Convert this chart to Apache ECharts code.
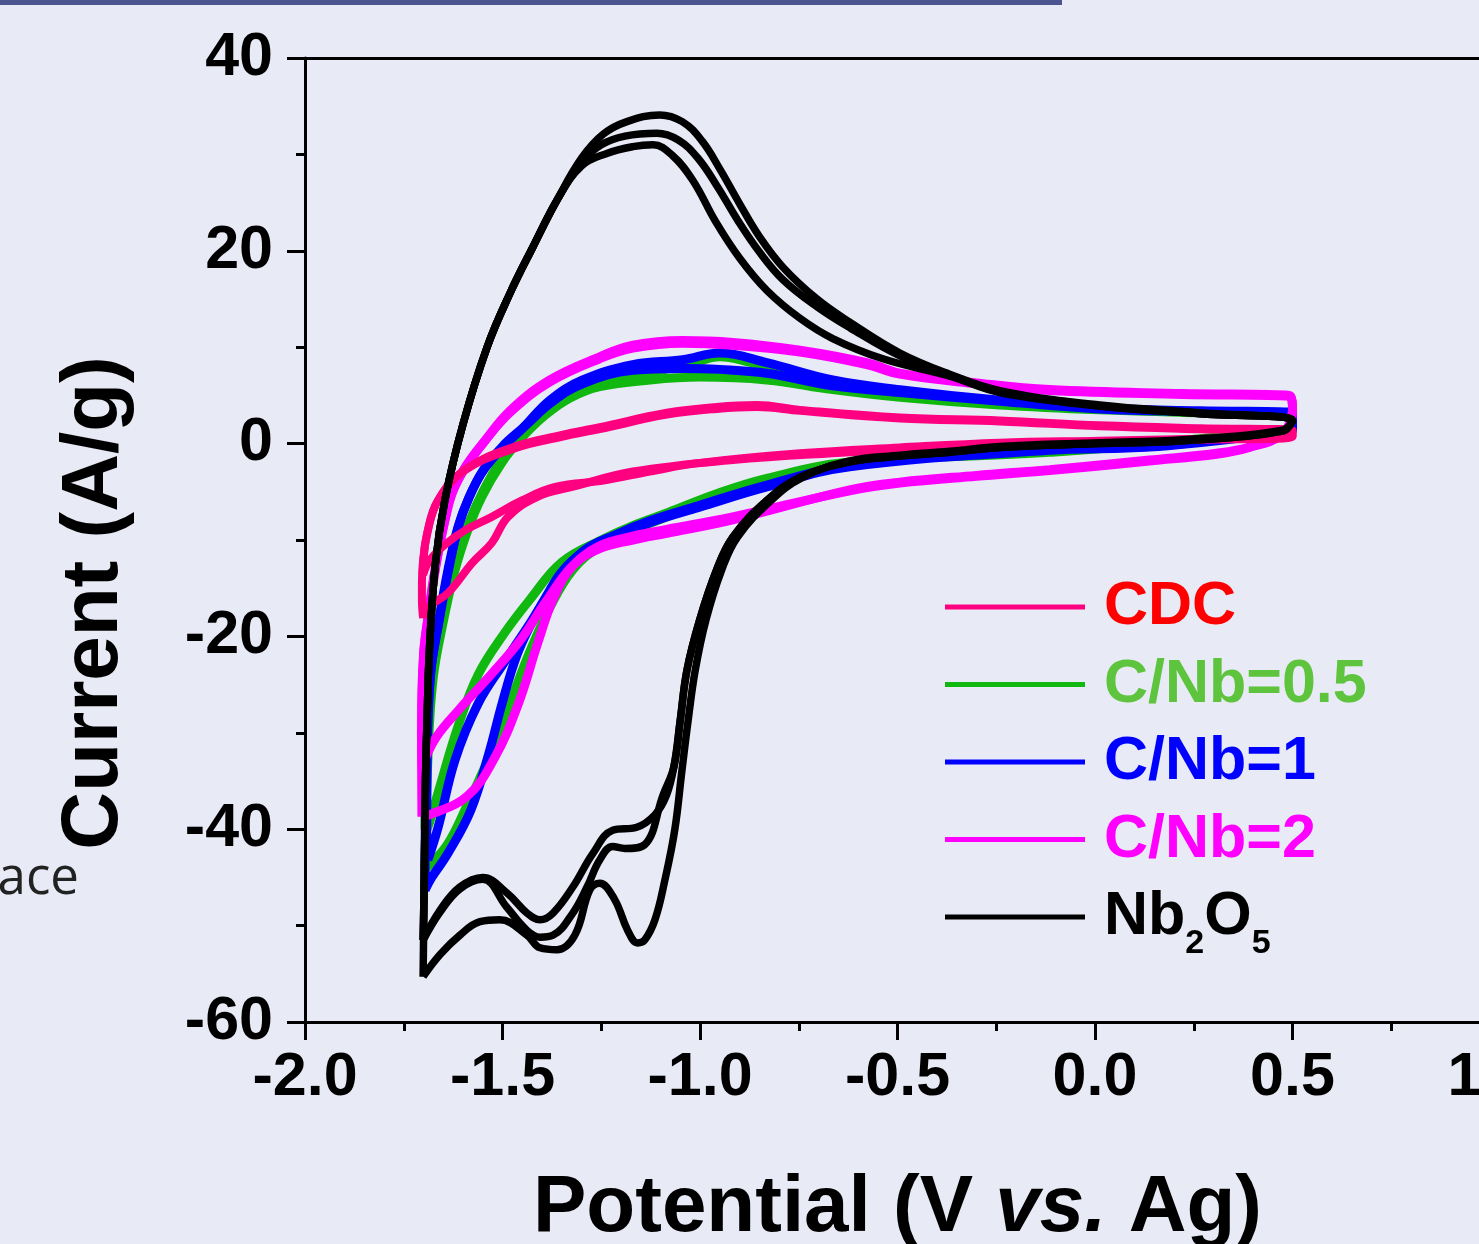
<!DOCTYPE html>
<html>
<head>
<meta charset="utf-8">
<script src="https://cdn.jsdelivr.net/npm/echarts@6/dist/echarts.min.js"></script>
<style>
  html, body { margin: 0; padding: 0; background: #e8eaf5; }
  #cv-chart { width: 1479px; height: 1244px; }
</style>
</head>
<body>
<div id="cv-chart"></div>
<script>
// tick labels
var xTicks = [-2.0, -1.5, -1.0, -0.5, 0.0, 0.5, 1.0];
var yTicks = [-60, -40, -20, 0, 20, 40];

// legend names
var sampleNames = ["CDC", "C/Nb=0.5", "C/Nb=1", "C/Nb=2", "Nb2O5"];

// CV loops, [potential V, current A/g]
var cdcCycle1 = [
  [-1.701,-18.1],[-1.704,-16.2],[-1.704,-14.5],[-1.701,-12.1],[-1.689,-9.0],[-1.663,-5.9],[-1.595,-2.7],
  [-1.469,-0.3],[-1.35,0.9],[-1.254,1.7],[-1.084,3.2],[-0.958,3.8],[-0.856,4.0],[-0.747,3.5],[-0.494,2.7],
  [-0.241,2.4],[0.012,1.9],[0.265,1.6],[0.5,1.4],
  [0.5,0.7],[0.265,0.4],[0.012,0.2],[-0.241,-0.2],[-0.494,-0.6],[-0.621,-0.9],[-0.917,-1.7],[-1.17,-2.9],
  [-1.324,-4.5],[-1.410,-5.5],[-1.486,-7.6],[-1.527,-10.3],[-1.577,-12.4],[-1.638,-15.5],[-1.689,-17.0],[-1.701,-18.1]
];
var cdcCycle2 = [
  [-1.701,-13.6],[-1.700,-12.0],[-1.690,-9.2],[-1.665,-6.0],[-1.60,-2.9],[-1.47,-0.5],[-1.35,0.7],[-1.254,1.5],
  [-1.084,3.0],[-0.958,3.6],[-0.856,3.8],[-0.747,3.4],[-0.494,2.6],[-0.241,2.3],[0.012,1.8],[0.265,1.5],[0.5,1.3],
  [0.5,0.8],[0.265,0.5],[0.012,0.3],[-0.241,0.1],[-0.494,-0.4],[-0.747,-1.0],[-1.001,-2.0],[-1.127,-2.9],
  [-1.241,-3.8],[-1.367,-4.5],[-1.451,-5.9],[-1.527,-7.6],[-1.595,-9.0],[-1.646,-10.5],[-1.684,-12.1],[-1.701,-13.6]
];
var nb05Cycle1 = [
  [-1.696,-44.2],[-1.689,-32.8],[-1.676,-24.5],[-1.650,-18.5],[-1.620,-13.1],[-1.588,-9.0],[-1.552,-5.5],
  [-1.502,-2.0],[-1.451,0.6],[-1.393,2.9],[-1.33,4.7],[-1.254,5.9],[-1.127,6.6],[-1.001,6.9],[-0.831,6.6],
  [-0.664,5.6],[-0.494,4.8],[-0.241,4.0],[0.012,3.5],[0.265,3.2],[0.5,3.0],
  [0.5,1.9],[0.265,0.4],[-0.115,-0.9],[-0.621,-2.0],[-0.831,-3.8],[-0.958,-5.5],[-1.084,-7.6],[-1.170,-9.0],
  [-1.254,-10.7],[-1.322,-13.1],[-1.380,-17.0],[-1.430,-21.5],[-1.48,-26.8],[-1.537,-32.8],[-1.595,-38.0],
  [-1.640,-41.6],[-1.689,-43.9],[-1.696,-44.2]
];
var nb05Cycle2 = [
  [-1.696,-40.0],[-1.690,-30.0],[-1.676,-23.5],[-1.650,-17.8],[-1.62,-12.5],[-1.588,-8.5],[-1.55,-5.0],
  [-1.50,-1.5],[-1.45,1.1],[-1.39,3.3],[-1.33,5.3],[-1.254,6.6],[-1.127,7.4],[-1.02,8.3],[-0.95,9.0],
  [-0.87,8.4],[-0.79,7.6],[-0.664,6.0],[-0.494,5.0],[-0.241,4.1],[0.012,3.6],[0.265,3.3],[0.5,3.1],
  [0.5,2.0],[0.265,0.5],[-0.115,-0.8],[-0.621,-1.9],[-0.831,-3.6],[-0.958,-5.2],[-1.084,-7.2],[-1.170,-8.5],
  [-1.25,-10.0],[-1.350,-12.3],[-1.431,-16.2],[-1.494,-19.6],[-1.562,-24.0],[-1.613,-29.4],[-1.663,-36.2],
  [-1.689,-39.8],[-1.696,-40.0]
];
var nb1Cycle1 = [
  [-1.696,-46.3],[-1.694,-34.9],[-1.684,-24.5],[-1.663,-18.8],[-1.638,-13.1],[-1.613,-8.7],[-1.588,-5.9],
  [-1.552,-3.0],[-1.502,-0.5],[-1.451,1.5],[-1.380,4.5],[-1.297,6.6],[-1.170,8.2],[-1.044,8.7],[-0.950,9.4],
  [-0.831,8.4],[-0.664,6.6],[-0.494,5.6],[-0.241,4.5],[0.012,3.7],[0.265,3.4],[0.5,3.2],
  [0.5,1.4],[0.391,0.7],[0.138,-0.35],[-0.115,-0.7],[-0.621,-2.4],[-0.831,-4.5],[-1.001,-6.6],[-1.127,-8.2],
  [-1.211,-9.7],[-1.297,-11.3],[-1.350,-13.3],[-1.390,-15.9],[-1.425,-18.5],[-1.464,-22.0],[-1.500,-26.8],
  [-1.535,-32.2],[-1.580,-38.0],[-1.638,-42.5],[-1.679,-45.0],[-1.696,-46.3]
];
var nb1Cycle2 = [
  [-1.692,-43.2],[-1.691,-34.0],[-1.682,-24.0],[-1.660,-18.3],[-1.635,-12.8],[-1.610,-8.4],[-1.585,-5.6],
  [-1.548,-2.7],[-1.498,-0.2],[-1.446,1.7],[-1.375,4.3],[-1.297,6.2],[-1.170,7.6],[-1.044,7.8],[-0.950,7.7],
  [-0.831,7.3],[-0.664,6.0],[-0.494,5.3],[-0.241,4.4],[0.012,3.6],[0.265,3.3],[0.5,3.1],
  [0.5,1.5],[0.391,0.8],[0.138,-0.3],[-0.115,-0.6],[-0.621,-2.3],[-0.831,-4.3],[-1.001,-6.4],[-1.127,-8.0],
  [-1.211,-9.4],[-1.297,-11.2],[-1.367,-14.6],[-1.436,-19.0],[-1.494,-22.6],[-1.562,-27.0],[-1.620,-32.8],
  [-1.663,-39.8],[-1.689,-43.2]
];
var nb2Cycle1 = [
  [-1.704,-38.7],[-1.705,-30.0],[-1.700,-22.0],[-1.688,-17.8],[-1.677,-14.6],[-1.663,-11.3],[-1.646,-7.9],
  [-1.628,-5.1],[-1.595,-2.5],[-1.550,0.0],[-1.481,3.4],[-1.380,6.6],[-1.254,9.0],[-1.170,10.2],
  [-1.044,10.7],[-0.917,10.5],[-0.747,9.7],[-0.578,8.4],[-0.494,7.3],[-0.30,6.3],[-0.115,5.6],[0.222,5.2],
  [0.492,5.0],[0.5,3.5],[0.475,1.1],[0.391,-0.35],[0.308,-1.0],[0.138,-1.7],[-0.115,-2.7],[-0.30,-3.3],
  [-0.494,-4.0],[-0.621,-4.8],[-0.917,-7.9],[-1.084,-9.3],[-1.170,-10.0],[-1.254,-10.9],[-1.320,-12.6],
  [-1.370,-16.0],[-1.410,-20.6],[-1.460,-27.0],[-1.520,-32.6],[-1.590,-36.6],[-1.684,-38.5],[-1.704,-38.7]
];
var nb2Cycle2 = [
  [-1.703,-33.5],[-1.704,-27.0],[-1.699,-21.5],[-1.686,-17.5],[-1.675,-14.3],[-1.661,-11.0],[-1.644,-7.7],
  [-1.626,-5.0],[-1.593,-2.4],[-1.548,0.1],[-1.479,3.3],[-1.380,6.4],[-1.254,8.8],[-1.170,9.9],
  [-1.044,10.4],[-0.917,10.2],[-0.747,9.5],[-0.578,8.2],[-0.494,7.2],[-0.30,6.2],[-0.115,5.5],[0.222,5.1],
  [0.492,4.9],[0.5,3.4],[0.475,1.0],[0.391,-0.4],[0.308,-1.1],[0.138,-1.8],[-0.115,-2.8],[-0.30,-3.4],
  [-0.494,-4.1],[-0.621,-4.9],[-0.917,-7.6],[-1.084,-8.9],[-1.170,-9.6],[-1.254,-10.6],[-1.325,-12.8],
  [-1.390,-16.4],[-1.455,-20.4],[-1.530,-24.0],[-1.610,-27.6],[-1.670,-30.6],[-1.703,-33.5]
];
var nb2o5Cycle1 = [
  [-1.701,-55.3],[-1.698,-45.0],[-1.695,-35.0],[-1.691,-28.7],[-1.685,-21.4],[-1.670,-12.5],[-1.646,-5.9],
  [-1.600,2.0],[-1.539,10.0],[-1.481,15.6],[-1.423,20.4],[-1.360,25.4],[-1.300,29.6],[-1.245,32.1],
  [-1.185,33.4],[-1.102,34.1],[-1.045,33.4],[-0.995,31.4],[-0.950,28.5],[-0.900,24.9],[-0.850,21.5],
  [-0.790,18.3],[-0.704,15.0],[-0.621,12.6],[-0.494,9.4],[-0.368,7.2],[-0.241,5.5],
  [0.012,4.0],[0.265,3.2],[0.5,2.4],
  [0.475,1.4],[0.222,0.4],[0.012,0.1],[-0.241,-0.3],[-0.368,-0.8],[-0.494,-1.2],[-0.621,-1.8],[-0.74,-3.5],
  [-0.82,-5.9],[-0.905,-9.7],[-0.945,-13.1],[-0.985,-18.3],[-1.012,-23.5],[-1.030,-28.7],[-1.046,-34.0],
  [-1.064,-40.1],[-1.089,-45.3],[-1.114,-49.4],[-1.14,-51.5],[-1.158,-51.8],[-1.183,-50.5],[-1.216,-47.3],
  [-1.254,-45.6],[-1.279,-46.3],[-1.317,-51.0],[-1.362,-52.5],[-1.405,-52.3],[-1.438,-51.0],[-1.507,-49.4],
  [-1.557,-49.6],[-1.608,-51.0],[-1.658,-53.0],[-1.701,-55.3]
];
var nb2o5Cycle2 = [
  [-1.701,-51.5],[-1.698,-45.0],[-1.695,-35.0],[-1.691,-28.7],[-1.685,-21.4],[-1.670,-12.5],[-1.646,-5.9],
  [-1.600,2.0],[-1.539,10.0],[-1.481,15.6],[-1.423,20.4],[-1.360,25.4],[-1.300,29.2],[-1.250,31.0],
  [-1.190,31.9],[-1.109,32.2],[-1.055,31.5],[-1.005,29.6],[-0.955,26.6],[-0.905,23.2],[-0.850,19.9],
  [-0.790,17.0],[-0.704,14.2],[-0.62,12.0],[-0.494,9.1],[-0.368,7.1],[-0.241,5.4],[0.012,3.9],[0.265,3.1],[0.5,2.4],
  [0.475,1.3],[0.222,0.3],[0.012,0.0],[-0.241,-0.4],[-0.368,-0.9],[-0.494,-1.3],[-0.621,-1.9],[-0.747,-3.5],
  [-0.831,-5.9],[-0.917,-9.7],[-0.958,-13.1],[-1.001,-18.3],[-1.033,-23.5],[-1.050,-28.7],[-1.066,-33.5],
  [-1.085,-36.5],[-1.114,-38.5],[-1.160,-39.8],[-1.221,-40.1],[-1.271,-42.5],[-1.322,-46.0],[-1.372,-48.7],
  [-1.405,-49.4],[-1.438,-48.7],[-1.489,-46.6],[-1.550,-45.0],[-1.608,-46.0],[-1.658,-48.4],[-1.701,-51.5]
];
var nb2o5Cycle3 = [
  [-1.701,-51.5],[-1.698,-45.0],[-1.695,-35.0],[-1.691,-28.7],[-1.685,-21.4],[-1.670,-12.5],[-1.646,-5.9],
  [-1.600,2.0],[-1.539,10.0],[-1.481,15.6],[-1.423,20.4],[-1.360,25.4],[-1.300,28.8],[-1.236,30.1],
  [-1.170,30.8],[-1.119,31.0],[-1.070,29.9],[-1.018,27.3],[-0.960,23.0],[-0.899,19.2],[-0.831,15.9],
  [-0.747,13.0],[-0.664,10.9],[-0.537,8.8],[-0.368,7.0],[-0.241,5.3],[0.012,3.9],[0.265,3.1],[0.5,2.4],
  [0.475,1.3],[0.222,0.3],[0.012,0.0],[-0.241,-0.4],[-0.368,-0.9],[-0.494,-1.3],[-0.621,-1.9],[-0.747,-3.5],
  [-0.831,-5.9],[-0.917,-9.7],[-0.958,-13.1],[-1.001,-18.3],[-1.033,-23.5],[-1.050,-28.7],[-1.066,-33.5],
  [-1.094,-36.5],[-1.14,-41.6],[-1.190,-42.0],[-1.221,-41.8],[-1.254,-43.2],[-1.286,-46.0],[-1.322,-48.7],
  [-1.372,-51.0],[-1.405,-51.2],[-1.438,-50.5],[-1.489,-48.1],[-1.550,-45.2],[-1.608,-46.2],[-1.658,-48.6],
  [-1.701,-51.5]
];

var font = '"Liberation Sans", Arial, sans-serif';

function loop(name, color, width, data) {
  return {
    name: name,
    type: "line",
    data: data,
    showSymbol: false,
    smooth: 0.4,
    color: color,
    lineStyle: { color: color, width: width },
    emphasis: { disabled: true }
  };
}

var myChart = echarts.init(document.getElementById("cv-chart"));

myChart.setOption({
  backgroundColor: "#e8eaf5",
  animation: false,
  textStyle: { fontFamily: font },
  grid: { left: 305, top: 58, width: 1185, height: 964, outerBoundsMode: "none", containLabel: false },
  legend: {
    orient: "vertical",
    left: 945,
    top: 577,
    padding: 0,
    icon: "rect",
    itemWidth: 140,
    itemHeight: 5,
    itemGap: 3.5,
    selectedMode: false,
    data: [
      { name: sampleNames[0], textStyle: { color: "#ff0000" } },
      { name: sampleNames[1], textStyle: { color: "#5ec43e" } },
      { name: sampleNames[2], textStyle: { color: "#0000ff" } },
      { name: sampleNames[3], textStyle: { color: "#ff00ff" } },
      { name: sampleNames[4], textStyle: { color: "#000000" } }
    ],
    formatter: function(name) {
      if (name === "Nb2O5") {
        return "{n|Nb}{s|2}{n|O}{s|5}";
      }
      return "{n|" + name + "}{s| }";
    },
    textStyle: {
      fontFamily: font,
      fontWeight: "bold",
      fontSize: 60,
      padding: [0, 0, 0, 14],
      rich: {
        n: { fontFamily: font, fontWeight: "bold", fontSize: 61, lineHeight: 60, verticalAlign: "top" },
        s: { fontFamily: font, fontWeight: "bold", fontSize: 34, lineHeight: 34, padding: [40, 0, 0, 0], verticalAlign: "top" }
      }
    }
  },
  xAxis: [
    {
      type: "value",
      min: xTicks[0],
      max: xTicks[xTicks.length - 1],
      interval: 0.5,
      position: "bottom",
      name: "Potential (V {i|vs.} Ag)",
      nameLocation: "middle",
      nameGap: 147,
      nameTextStyle: {
        color: "#000",
        fontFamily: font,
        fontWeight: "bold",
        fontSize: 80,
        rich: { i: { fontFamily: font, fontWeight: "bold", fontStyle: "italic", fontSize: 80 } }
      },
      axisLine: { show: true, onZero: false, lineStyle: { color: "#000", width: 3 } },
      axisTick: { show: true, inside: false, length: 18, lineStyle: { color: "#000", width: 3 } },
      minorTick: { show: true, splitNumber: 2, length: 9, lineStyle: { color: "#000", width: 3 } },
      splitLine: { show: false },
      axisLabel: {
        color: "#000",
        fontFamily: font,
        fontWeight: "bold",
        fontSize: 61,
        margin: 26,
        showMaxLabel: true,
        formatter: function(v) { return v.toFixed(1); }
      }
    },
    {
      type: "value",
      min: xTicks[0],
      max: xTicks[xTicks.length - 1],
      interval: 0.5,
      position: "top",
      axisLine: { show: true, onZero: false, lineStyle: { color: "#000", width: 3 } },
      axisTick: { show: false },
      axisLabel: { show: false },
      splitLine: { show: false }
    }
  ],
  yAxis: {
    type: "value",
    min: yTicks[0],
    max: yTicks[yTicks.length - 1],
    interval: 20,
    axisLine: { show: true, onZero: false, lineStyle: { color: "#000", width: 3 } },
    axisTick: { show: true, inside: false, length: 18, lineStyle: { color: "#000", width: 3 } },
    minorTick: { show: true, splitNumber: 2, length: 9, lineStyle: { color: "#000", width: 3 } },
    splitLine: { show: false },
    axisLabel: {
      color: "#000",
      fontFamily: font,
      fontWeight: "bold",
      fontSize: 61,
      margin: 32
    }
  },
  graphic: [
    { type: "rect", shape: { x: 0, y: 0, width: 1062, height: 5 }, style: { fill: "#4b5690" } },
    {
      type: "text",
      x: 95,
      y: 603,
      rotation: Math.PI / 2,
      style: {
        text: "Current (A/g)",
        font: "bold 80px " + font,
        fill: "#000",
        align: "center",
        verticalAlign: "middle",
        textAlign: "center",
        textVerticalAlign: "middle"
      }
    },
    {
      type: "text",
      x: 79,
      y: 879,
      style: {
        text: "ace",
        font: '51px "Open Sans", sans-serif',
        fill: "#222",
        align: "right",
        verticalAlign: "middle",
        textAlign: "right",
        textVerticalAlign: "middle"
      }
    }
  ],
  series: [
    loop(sampleNames[1], "#10b810", 9, nb05Cycle1),
    loop(sampleNames[1], "#10b810", 9, nb05Cycle2),
    loop(sampleNames[2], "#0000ff", 9, nb1Cycle1),
    loop(sampleNames[2], "#0000ff", 9, nb1Cycle2),
    loop(sampleNames[3], "#ff00ff", 9, nb2Cycle1),
    loop(sampleNames[3], "#ff00ff", 9, nb2Cycle2),
    loop(sampleNames[0], "#ff0080", 8, cdcCycle1),
    loop(sampleNames[0], "#ff0080", 8, cdcCycle2),
    loop(sampleNames[4], "#000000", 7.5, nb2o5Cycle1),
    loop(sampleNames[4], "#000000", 7.5, nb2o5Cycle2),
    loop(sampleNames[4], "#000000", 7.5, nb2o5Cycle3)
  ]
});
</script>
</body>
</html>
